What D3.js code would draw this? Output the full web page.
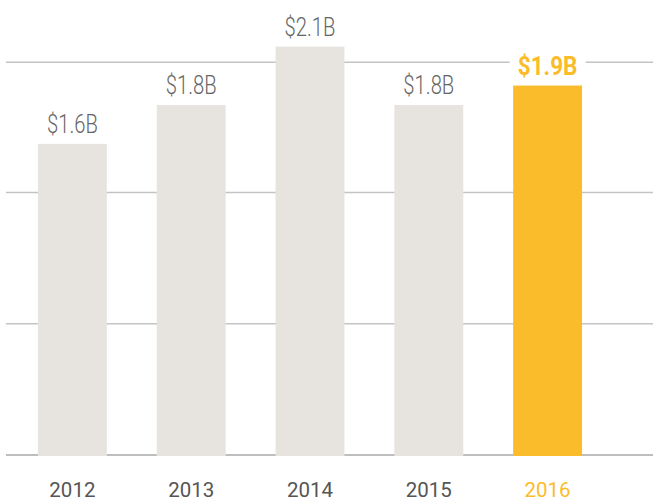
<!DOCTYPE html>
<html>
<head>
<meta charset="utf-8">
<style>
  body { margin: 0; background: #fff; }
  svg { display: block; }
</style>
</head>
<body>
<svg id="chart"></svg>
<script src="https://cdn.jsdelivr.net/npm/d3@7"></script>
<script>
  const width = 653, height = 502;

  // data
  const years = ['2012', '2013', '2014', '2015', '2016'];
  const revenue = [1.6, 1.8, 2.1, 1.8, 1.9];   // $ billions
  const valueLabels = ['$1.6B', '$1.8B', '$2.1B', '$1.8B', '$1.9B'];
  const gridValues = [0, 0.675, 1.35, 2.02];
  const highlightYear = '2016';

  const grey = '#e7e4e0', yellow = '#fbbc2b';

  const svg = d3.select('#chart').attr('width', width).attr('height', height);

  const x = d3.scaleBand().domain(years).range([13, 607])
      .paddingInner(0.42).paddingOuter(0.21);
  const y = d3.scaleLinear().domain([0, 2.34]).range([455, 0]);

  // gridlines
  svg.append('g').selectAll('line')
    .data(gridValues)
    .join('line')
      .attr('x1', 6).attr('x2', width)
      .attr('y1', d => y(d)).attr('y2', d => y(d))
      .attr('stroke', d => d === 0 ? '#a9a9a9' : '#c4c4c4')
      .attr('stroke-width', 1.5);

  // bars
  svg.append('g').selectAll('rect')
    .data(years)
    .join('rect')
      .attr('x', d => x(d))
      .attr('y', (d, i) => y(revenue[i]))
      .attr('width', x.bandwidth())
      .attr('height', (d, i) => y(0) - y(revenue[i]) + 1)
      .attr('fill', d => d === highlightYear ? yellow : grey);

  // value labels
  const labels = svg.append('g').selectAll('g')
    .data(years)
    .join('g')
      .attr('transform', (d, i) => `translate(${x(d) + x.bandwidth() / 2},${y(revenue[i]) - 11})`);

  labels.filter(d => d === highlightYear)
    .append('rect')
      .attr('x', -38).attr('y', -24)
      .attr('width', 76).attr('height', 30)
      .attr('fill', '#fff');

  labels.append('text')
      .attr('text-anchor', 'middle')
      .attr('transform', d => d === highlightYear ? 'scale(0.9,1)' : 'scale(0.81,1)')
      .attr('font-family', 'Roboto, sans-serif')
      .attr('font-size', 25)
      .attr('font-weight', d => d === highlightYear ? 700 : 300)
      .attr('fill', d => d === highlightYear ? yellow : '#666')
      .text((d, i) => valueLabels[i]);

  // year labels
  svg.append('g').selectAll('text')
    .data(years)
    .join('text')
      .attr('x', d => x(d) + x.bandwidth() / 2)
      .attr('y', 497)
      .attr('text-anchor', 'middle')
      .attr('font-family', 'Roboto, sans-serif')
      .attr('font-size', 20.5)
      .attr('fill', d => d === highlightYear ? yellow : '#555')
      .text(d => d);
</script>
</body>
</html>
